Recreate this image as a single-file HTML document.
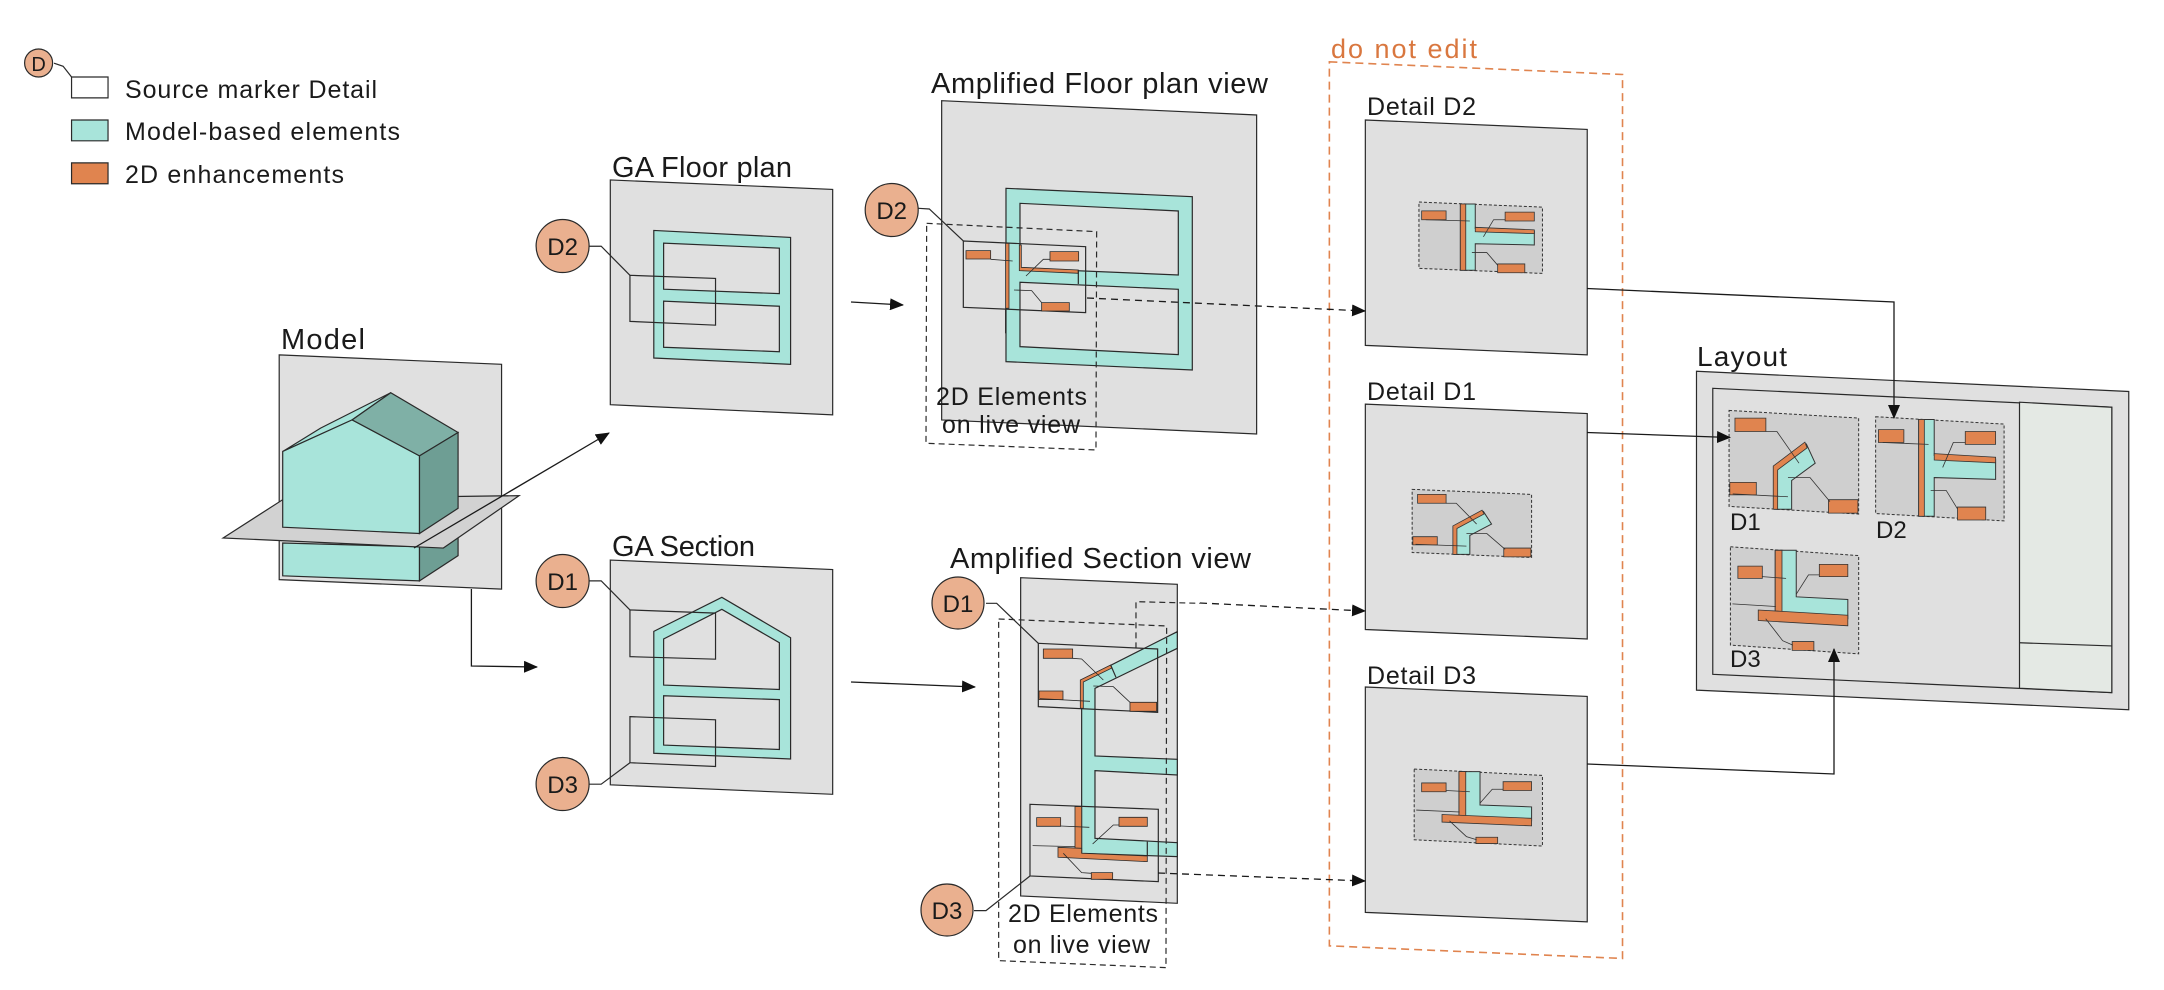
<!DOCTYPE html>
<html><head><meta charset="utf-8"><style>
html,body{margin:0;padding:0;background:#fff;}
svg{display:block}
svg *{vector-effect:non-scaling-stroke}
text{font-family:"Liberation Sans",sans-serif;fill:#1a1a1a}
</style></head><body>
<svg width="2164" height="990" viewBox="0 0 2164 990" xmlns="http://www.w3.org/2000/svg">
<defs>
<marker id="ah" markerWidth="14" markerHeight="12" refX="13" refY="6" orient="auto" markerUnits="userSpaceOnUse"><path d="M0,0 L14,6 L0,12 z" fill="#111"/></marker>
<g id="c2">
 <polygon points="470,320 652,328 652,433 470,425" fill="#cfcfcf" stroke="#333" stroke-width="1" stroke-dasharray="3,2"/>
 <polygon points="531,323 553,323 553,362 640,366 640,388 553,386 553,428 531,428" fill="#a8e4da" stroke="#333" stroke-width="1"/>
 <rect x="531" y="323" width="8" height="105" fill="#e0844f" stroke="#333" stroke-width="0.8"/>
 <polygon points="553,360 640,364 640,370 553,367" fill="#e0844f" stroke="#333" stroke-width="0.8"/>
 <rect x="474" y="334" width="36" height="14" fill="#e0844f" stroke="#333" stroke-width="0.8"/>
 <rect x="597" y="336" width="43" height="14" fill="#e0844f" stroke="#333" stroke-width="0.8"/>
 <rect x="586" y="418" width="40" height="14" fill="#e0844f" stroke="#333" stroke-width="0.8"/>
 <polyline points="480,348 545,350" fill="none" stroke="#333" stroke-width="0.8"/>
 <polyline points="597,348 580,348 565,375" fill="none" stroke="#333" stroke-width="0.8"/>
 <polyline points="548,400 570,400 586,420" fill="none" stroke="#333" stroke-width="0.8"/>
</g>
<g id="c1">
 <polygon points="460,775 636,783 636,883 460,875" fill="#cfcfcf" stroke="#333" stroke-width="1" stroke-dasharray="3,2"/>
 <polygon points="522,878 522,835 565,810 577,830 545,848 545,878" fill="#a8e4da" stroke="#333" stroke-width="1"/>
 <polygon points="520,878 520,833 563,808 566,814 526,837 526,878" fill="#e0844f" stroke="#333" stroke-width="0.8"/>
 <rect x="468" y="783" width="42" height="14" fill="#e0844f" stroke="#333" stroke-width="0.8"/>
 <rect x="461" y="850" width="36" height="13" fill="#e0844f" stroke="#333" stroke-width="0.8"/>
 <rect x="595" y="868" width="40" height="14" fill="#e0844f" stroke="#333" stroke-width="0.8"/>
 <polyline points="510,797 525,797 555,830" fill="none" stroke="#333" stroke-width="0.8"/>
 <polyline points="465,862 540,865" fill="none" stroke="#333" stroke-width="0.8"/>
 <polyline points="540,845 570,845 597,870" fill="none" stroke="#333" stroke-width="0.8"/>
</g>
<g id="c3">
 <polygon points="463,1218 652,1228 652,1340 463,1330" fill="#cfcfcf" stroke="#333" stroke-width="1" stroke-dasharray="3,2"/>
 <polygon points="529,1222 560,1222 560,1275 636,1278 636,1300 529,1300" fill="#a8e4da" stroke="#333" stroke-width="1"/>
 <rect x="529" y="1222" width="10" height="78" fill="#e0844f" stroke="#333" stroke-width="0.8"/>
 <polygon points="504,1290 636,1296 636,1308 504,1302" fill="#e0844f" stroke="#333" stroke-width="0.8"/>
 <rect x="474" y="1240" width="36" height="14" fill="#e0844f" stroke="#333" stroke-width="0.8"/>
 <rect x="594" y="1238" width="42" height="14" fill="#e0844f" stroke="#333" stroke-width="0.8"/>
 <rect x="554" y="1326" width="32" height="10" fill="#e0844f" stroke="#333" stroke-width="0.8"/>
 <polyline points="510,1252 545,1254" fill="none" stroke="#333" stroke-width="0.8"/>
 <polyline points="466,1283 530,1286" fill="none" stroke="#333" stroke-width="0.8"/>
 <polyline points="594,1250 578,1250 560,1272" fill="none" stroke="#333" stroke-width="0.8"/>
 <polyline points="515,1300 540,1325 555,1330" fill="none" stroke="#333" stroke-width="0.8"/>
</g>
</defs>

<g transform="scale(0.7015,0.6314)" stroke="#2a2a2a" stroke-width="1.2">
 <polyline points="77,100 90,105 102,122" fill="none"/>
 <rect x="102" y="122" width="52" height="33" fill="#fff"/>
 <rect x="102" y="190" width="52" height="33" fill="#a8e4da"/>
 <rect x="102" y="258" width="52" height="33" fill="#e0844f"/>

 <polygon points="398,562 715,577 715,933 398,918" fill="#e0e0e0"/>
 <polygon points="403,860 598,866 598,920 403,912" fill="#a8e4da"/>
 <polygon points="598,866 653,830 653,880 598,920" fill="#6e9e94"/>
 <polygon points="318,852 405,790 740,785 632,868" fill="#d2d2d2"/>
 <polygon points="403,715 457,678 557,622 502,665" fill="#a8e4da"/>
 <polygon points="403,715 502,665 598,722 598,845 403,835" fill="#a8e4da"/>
 <polygon points="502,665 557,622 653,685 598,722" fill="#7fb0a6"/>
 <polygon points="598,722 653,685 653,805 598,845" fill="#6e9e94"/>

 <polygon points="870,285 1187,300 1187,657 870,641" fill="#e0e0e0"/>
 <path d="M932,365 L1127,376 L1127,577 L932,567 Z M946,385 L946,458 L1111,465 L1111,393 Z M946,477 L946,550 L1111,557 L1111,485 Z" fill="#a8e4da" fill-rule="evenodd"/>
 <polygon points="898,436 1020,441 1020,515 898,509" fill="none"/>
 <polyline points="840,390 857,390 898,436" fill="none"/>

 <polygon points="870,887 1187,902 1187,1258 870,1243" fill="#e0e0e0"/>
 <path d="M932,1000 L1029,946 L1127,1010 L1127,1202 L932,1193 Z M946,1012 L946,1085 L1111,1092 L1111,1018 L1029,965 Z M946,1102 L946,1180 L1111,1187 L1111,1108 Z" fill="#a8e4da" fill-rule="evenodd"/>
 <polygon points="898,966 1020,971 1020,1044 898,1040" fill="none"/>
 <polygon points="898,1135 1020,1140 1020,1214 898,1208" fill="none"/>
 <polyline points="840,920 857,920 898,966" fill="none"/>
 <polyline points="840,1242 857,1242 898,1208" fill="none"/>
</g>

<g transform="translate(860,60) scale(0.3333)" stroke="#2a2a2a" stroke-width="1.2">
 <polygon points="245,122 1190,165 1190,1122 245,1080" fill="#e0e0e0"/>
 <path d="M438,385 L997,410 L997,930 L438,905 Z M480,430 L480,625 L955,645 L955,453 Z M480,667 L480,860 L955,884 L955,688 Z" fill="#a8e4da" fill-rule="evenodd"/>
 <polygon points="310,543 677,560 677,758 310,742" fill="none"/>
 <rect x="437" y="550" width="10" height="195" fill="#e0844f" stroke-width="0.8"/>
 <polygon points="478,555 484,555 484,622 655,630 655,640 478,632" fill="#e0844f" stroke-width="0.8"/>
 <line x1="655" y1="630" x2="655" y2="672"/>
 <line x1="437" y1="745" x2="437" y2="820"/>
 <rect x="318" y="572" width="74" height="25" fill="#e0844f" stroke-width="0.8"/>
 <rect x="570" y="575" width="86" height="28" fill="#e0844f" stroke-width="0.8"/>
 <rect x="545" y="728" width="83" height="25" fill="#e0844f" stroke-width="0.8"/>
 <polyline points="392,598 458,603" fill="none" stroke-width="0.8"/>
 <polyline points="570,598 550,598 498,648" fill="none" stroke-width="0.8"/>
 <polyline points="462,690 515,692 545,728" fill="none" stroke-width="0.8"/>
 <polygon points="200,490 710,515 708,1170 198,1150" fill="none" stroke-dasharray="6,4"/>
 <polyline points="175,445 208,447 310,543" fill="none"/>
</g>

<g transform="translate(900,540) scale(0.3333)" stroke="#2a2a2a" stroke-width="1.2">
 <polygon points="362,113 832,133 832,1090 362,1068" fill="#e0e0e0"/>
 <polygon points="545,420 832,275 832,325 585,445 585,648 832,658 832,705 585,692 585,895 832,908 832,950 545,940" fill="#a8e4da"/>
 <polygon points="415,310 773,327 773,517 415,500" fill="none"/>
 <polygon points="541,420 632,375 636,384 550,426 550,505 541,505" fill="#e0844f" stroke-width="0.8"/>
 <line x1="632" y1="375" x2="648" y2="412"/>
 <rect x="430" y="327" width="88" height="28" fill="#e0844f" stroke-width="0.8"/>
 <rect x="417" y="453" width="72" height="26" fill="#e0844f" stroke-width="0.8"/>
 <rect x="690" y="487" width="80" height="27" fill="#e0844f" stroke-width="0.8"/>
 <polyline points="518,355 545,357 610,420" fill="none" stroke-width="0.8"/>
 <polyline points="420,476 570,484" fill="none" stroke-width="0.8"/>
 <polyline points="580,438 640,440 690,487" fill="none" stroke-width="0.8"/>
 <polygon points="390,793 775,808 775,1025 390,1008" fill="none"/>
 <rect x="525" y="800" width="20" height="140" fill="#e0844f" stroke-width="0.8"/>
 <polygon points="474,922 545,925 545,940 742,948 742,965 474,952" fill="#e0844f" stroke-width="0.8"/>
 <line x1="742" y1="905" x2="742" y2="948"/>
 <rect x="410" y="833" width="72" height="26" fill="#e0844f" stroke-width="0.8"/>
 <rect x="657" y="832" width="85" height="27" fill="#e0844f" stroke-width="0.8"/>
 <rect x="574" y="998" width="64" height="20" fill="#e0844f" stroke-width="0.8"/>
 <polyline points="482,858 568,862" fill="none" stroke-width="0.8"/>
 <polyline points="398,917 525,920" fill="none" stroke-width="0.8"/>
 <polyline points="657,855 640,855 578,912" fill="none" stroke-width="0.8"/>
 <polyline points="490,940 545,998 574,1000" fill="none" stroke-width="0.8"/>
 <polygon points="296,237 800,258 798,1283 296,1262" fill="none" stroke-dasharray="6,4"/>
 <polyline points="708,325 708,185 900,190" fill="none" stroke-dasharray="6,4"/>
 <polyline points="258,190 290,190 415,310" fill="none"/>
 <polyline points="222,1112 258,1112 390,1008" fill="none"/>
</g>

<g transform="translate(1100,0) scale(0.6786,0.6314)" stroke="#2a2a2a" stroke-width="1.2">
 <polygon points="338,98 770,118 770,1518 338,1498" fill="none" stroke="#e0844f" stroke-width="1.6" stroke-dasharray="8,5"/>
 <polygon points="391,190 718,205 718,562 391,547" fill="#e0e0e0"/>
 <polygon points="391,640 718,655 718,1012 391,997" fill="#e0e0e0"/>
 <polygon points="391,1088 718,1103 718,1460 391,1445" fill="#e0e0e0"/>
 <use href="#c2"/>
 <use href="#c1"/>
 <use href="#c3"/>
 <polygon points="879,588 1516,620 1516,1124 879,1093" fill="#e0e0e0"/>
 <polygon points="903,615 1491,645 1491,1097 903,1068" fill="#e0e0e0"/>
 <polygon points="1355,637 1491,645 1491,1097 1355,1090" fill="#e4e9e4"/>
 <line x1="1355" y1="1018" x2="1491" y2="1023"/>
 <use href="#c1" transform="translate(927,650) scale(1.085,1.52) translate(-460,-775)"/>
 <use href="#c2" transform="translate(1143,660) scale(1.04,1.46) translate(-470,-320)"/>
 <use href="#c3" transform="translate(929,866) scale(1,1.39) translate(-463,-1218)"/>
</g>

<g stroke="#1a1a1a" stroke-width="1.3" fill="none">
 <line x1="414" y1="548" x2="609" y2="433" marker-end="url(#ah)"/>
 <polyline points="471.4,589 471.4,666 537,667" marker-end="url(#ah)"/>
 <line x1="851" y1="302" x2="903" y2="305" marker-end="url(#ah)"/>
 <line x1="851" y1="682" x2="975" y2="687" marker-end="url(#ah)"/>
 <line x1="1087" y1="298" x2="1365" y2="311" stroke-dasharray="7,5" marker-end="url(#ah)"/>
 <line x1="1200" y1="603" x2="1365" y2="611" stroke-dasharray="7,5" marker-end="url(#ah)"/>
 <line x1="1158" y1="873" x2="1365" y2="881" stroke-dasharray="7,5" marker-end="url(#ah)"/>
 <polyline points="1587,288.5 1894,302 1894,418" marker-end="url(#ah)"/>
 <line x1="1587" y1="432.5" x2="1730" y2="437.5" marker-end="url(#ah)"/>
 <polyline points="1587,764 1834,774 1834,649" marker-end="url(#ah)"/>
</g>

<g fill="#eab08f" stroke="#2a2a2a" stroke-width="1.2">
 <circle cx="38.6" cy="63" r="14"/>
 <circle cx="562.6" cy="246" r="26.5"/>
 <circle cx="562.6" cy="581" r="26.5"/>
 <circle cx="562.6" cy="784" r="26.5"/>
 <circle cx="891.7" cy="210" r="26.5"/>
 <circle cx="958" cy="603" r="26"/>
 <circle cx="947" cy="910" r="26"/>
</g>
<g font-size="24" text-anchor="middle">
 <text x="38.6" y="71" font-size="20">D</text>
 <text x="562.6" y="255">D2</text>
 <text x="562.6" y="590">D1</text>
 <text x="562.6" y="793">D3</text>
 <text x="891.7" y="219">D2</text>
 <text x="958" y="612">D1</text>
 <text x="947" y="919">D3</text>
</g>

<g font-size="25">
 <text x="125" y="98" textLength="252">Source marker Detail</text>
 <text x="125" y="140" textLength="275">Model-based elements</text>
 <text x="125" y="183" textLength="219">2D enhancements</text>
 <text x="281" y="349" font-size="29" textLength="84">Model</text>
 <text x="612" y="177" font-size="29" textLength="180">GA Floor plan</text>
 <text x="612" y="556" font-size="29" textLength="143">GA Section</text>
 <text x="931" y="93" font-size="29" textLength="337">Amplified Floor plan view</text>
 <text x="950" y="568" font-size="29" textLength="301">Amplified Section view</text>
 <text x="936" y="405" textLength="151">2D Elements</text>
 <text x="942" y="433" textLength="138">on live view</text>
 <text x="1008" y="922" textLength="150">2D Elements</text>
 <text x="1013" y="953" textLength="137">on live view</text>
 <text x="1331" y="58" font-size="27" textLength="146" style="fill:#d9773f">do not edit</text>
 <text x="1367" y="115" textLength="109">Detail D2</text>
 <text x="1367" y="400" textLength="109">Detail D1</text>
 <text x="1367" y="684" textLength="109">Detail D3</text>
 <text x="1697" y="366" font-size="28" textLength="90">Layout</text>
 <text x="1730" y="530" font-size="24">D1</text>
 <text x="1876" y="538" font-size="24">D2</text>
 <text x="1730" y="667" font-size="24">D3</text>
</g>
</svg>
</body></html>
